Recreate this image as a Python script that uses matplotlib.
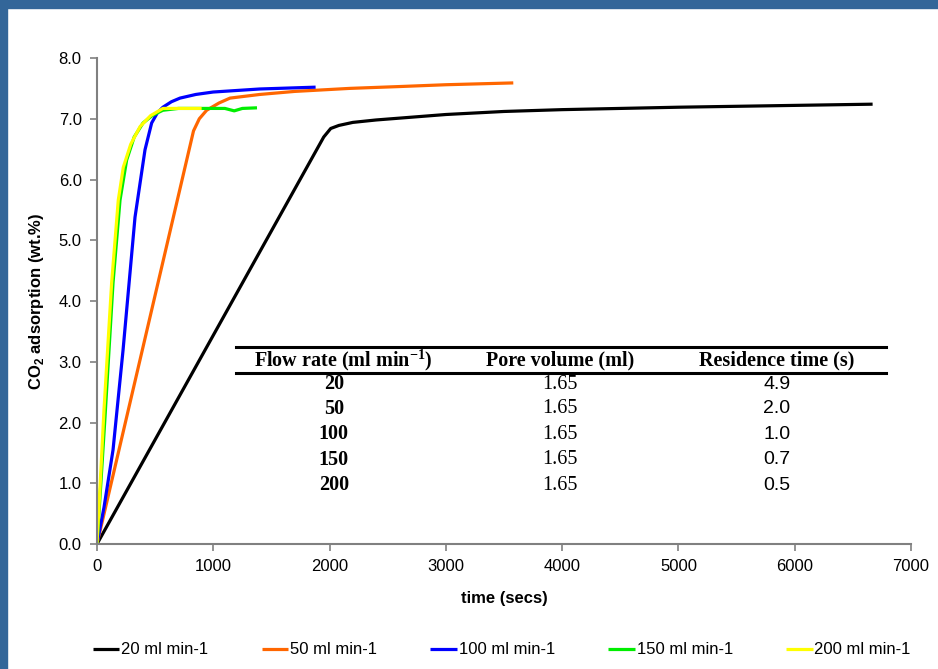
import numpy as np
import matplotlib
matplotlib.use("Agg")
import matplotlib.pyplot as plt
from matplotlib.lines import Line2D

plt.rcParams['font.family'] = ['Liberation Sans', 'DejaVu Sans']

# CO2 adsorption curves (time in s, wt.%)
t20 = [0, 1950, 2010, 2080, 2200, 2400, 3000, 3500, 4000, 5000, 6000, 6670]
y20 = [0, 6.70, 6.84, 6.89, 6.94, 6.98, 7.07, 7.12, 7.15, 7.19, 7.22, 7.24]

t50 = [0, 830, 880, 943, 1050, 1144, 1400, 1700, 2175, 2600, 3000, 3580]
y50 = [0, 6.80, 7.00, 7.14, 7.26, 7.34, 7.40, 7.45, 7.50, 7.53, 7.56, 7.59]

t100 = [0, 60, 138, 224, 327, 413, 470, 520, 567, 640, 714, 850, 999, 1400, 1880]
y100 = [0, 0.60, 1.55, 3.19, 5.38, 6.49, 6.93, 7.10, 7.19, 7.28, 7.34, 7.40, 7.44, 7.49, 7.52]

t150 = [0, 30, 69, 138, 198, 255, 320, 396, 480, 567, 700, 900, 1100, 1180, 1250, 1376]
y150 = [0, 0.90, 2.09, 4.30, 5.66, 6.32, 6.70, 6.93, 7.06, 7.14, 7.17, 7.17, 7.17, 7.13, 7.17, 7.18]

t200 = [0, 25, 60, 126, 183, 226, 290, 370, 460, 567, 700, 900]
y200 = [0, 0.90, 2.20, 4.30, 5.66, 6.20, 6.58, 6.87, 7.05, 7.17, 7.17, 7.17]

series = [
    (t20, y20, 'black', '20 ml min-1'),
    (t50, y50, '#ff6600', '50 ml min-1'),
    (t100, y100, '#0000ff', '100 ml min-1'),
    (t150, y150, '#00ee00', '150 ml min-1'),
    (t200, y200, '#ffff00', '200 ml min-1'),
]

# inset table
flow_rates = ['20', '50', '100', '150', '200']
pore_volumes = ['1.65', '1.65', '1.65', '1.65', '1.65']
residence_times = ['4.9', '2.0', '1.0', '0.7', '0.5']

fig = plt.figure(figsize=(9.38, 6.69), dpi=100)

# blue slide frame
frame = '#336699'
fig.patches.append(plt.Rectangle((0, 1 - 8 / 669), 1, 8 / 669, transform=fig.transFigure,
                                 color=frame, zorder=0))
fig.patches.append(plt.Rectangle((0, 0), 7 / 938, 1, transform=fig.transFigure,
                                 color=frame, zorder=0))

ax = fig.add_axes([0.1034, 0.1868, 0.8678, 0.7265])

for t, y, c, lab in series:
    ax.plot(t, y, color=c, lw=2.3, label=lab, solid_capstyle='butt')

ax.set_xlim(0, 7000)
ax.set_ylim(0, 8)
ax.set_xticks(np.arange(0, 7001, 1000))
ax.set_yticks(np.arange(0, 8.01, 1.0))
ax.set_yticklabels([f'{v:.1f}' for v in np.arange(0, 8.01, 1.0)])
for s in ['top', 'right']:
    ax.spines[s].set_visible(False)
for s in ['left', 'bottom']:
    ax.spines[s].set_color('#808080')
    ax.spines[s].set_linewidth(1.5)
ax.tick_params(direction='out', length=5, width=1.2, color='#808080', labelsize=12, pad=6)

ax.set_xlabel('time (secs)', fontsize=12, fontweight='bold', labelpad=12)
ax.set_ylabel(r'CO$_\mathregular{2}$ adsorption (wt.%)', fontsize=12, fontweight='bold', labelpad=9)

# table drawn in axes coordinates
tr = ax.transAxes
ax.add_line(Line2D([0.171, 0.969], [0.405, 0.405], transform=tr, color='black', lw=2.2))
ax.add_line(Line2D([0.171, 0.969], [0.352, 0.352], transform=tr, color='black', lw=2.2))
cols = [0.291, 0.569, 0.835]
hy = 0.378
fs = 14.5
ax.text(0.302, hy, r'Flow rate (ml min$^\mathregular{-1}$)', transform=tr, ha='center', va='center',
        family='Liberation Serif', fontweight='bold', fontsize=fs)
ax.text(cols[1], hy, 'Pore volume (ml)', transform=tr, ha='center', va='center',
        family='Liberation Serif', fontweight='bold', fontsize=fs)
ax.text(cols[2], hy, 'Residence time (s)', transform=tr, ha='center', va='center',
        family='Liberation Serif', fontweight='bold', fontsize=fs)
row_y = [0.329, 0.278, 0.226, 0.173, 0.121]
for ry, fr, pv, rt in zip(row_y, flow_rates, pore_volumes, residence_times):
    ax.text(cols[0], ry, fr, transform=tr, ha='center', va='center',
            family='Liberation Serif', fontweight='bold', fontsize=fs)
    ax.text(cols[1], ry, pv, transform=tr, ha='center', va='center',
            family='Liberation Serif', fontsize=fs)
    ax.text(cols[2], ry, rt, transform=tr, ha='center', va='center',
            family='Liberation Sans', fontsize=14)

fig.legend(loc='lower center', bbox_to_anchor=(0.535, -0.005), ncol=5, frameon=False,
           fontsize=12, handlelength=1.6, handletextpad=0.1, columnspacing=3.2)

fig.savefig('out.png', dpi=100)
